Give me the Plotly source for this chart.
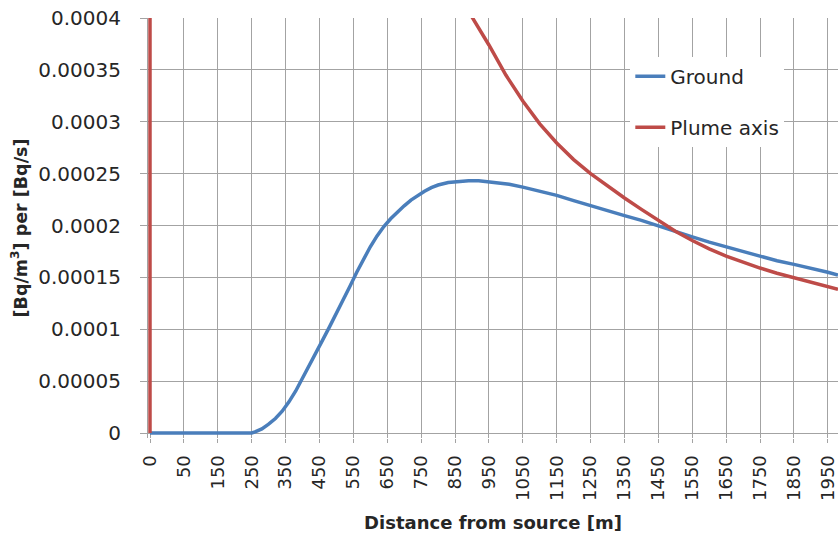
import plotly.graph_objects as go

# Category axis (distance from source in m)
categories = [str(d) for d in list(range(0, 50, 5)) + list(range(50, 1990, 10))]
x_tick_labels = ["0", "50", "150", "250", "350", "450", "550", "650", "750", "850",
                 "950", "1050", "1150", "1250", "1350", "1450", "1550", "1650",
                 "1750", "1850", "1950"]

y_tick_vals = [0, 0.00005, 0.0001, 0.00015, 0.0002, 0.00025, 0.0003, 0.00035, 0.0004]
y_tick_text = ["0", "0.00005", "0.0001", "0.00015", "0.0002", "0.00025", "0.0003", "0.00035", "0.0004"]

ground_dist = [0, 50, 100, 150, 200, 250, 260, 280, 300, 320, 340, 360, 380, 400, 420,
               440, 460, 480, 500, 520, 540, 560, 580, 600, 620, 640, 660, 680, 700, 720,
               740, 760, 780, 800, 830, 860, 890, 920, 950, 980, 1010, 1050, 1100, 1150,
               1200, 1250, 1300, 1350, 1400, 1450, 1500, 1550, 1600, 1650, 1700, 1750,
               1800, 1850, 1900, 1950, 1980]
ground_val = [0, 0, 0, 0, 0, 0, 0.0000010, 0.0000040, 0.0000085, 0.0000140, 0.0000210,
              0.0000300, 0.0000405, 0.0000525, 0.0000650, 0.0000775, 0.0000900, 0.0001025,
              0.0001150, 0.0001280, 0.0001415, 0.0001550, 0.0001680, 0.0001795, 0.0001900,
              0.0001990, 0.0002065, 0.0002130, 0.0002190, 0.0002245, 0.0002290, 0.0002330,
              0.0002365, 0.0002390, 0.0002415, 0.0002427, 0.0002432, 0.0002432, 0.0002423,
              0.0002410, 0.0002397, 0.0002370, 0.0002330, 0.0002290, 0.0002240, 0.0002190,
              0.0002145, 0.0002095, 0.0002050, 0.0001995, 0.0001940, 0.0001890, 0.0001840,
              0.0001795, 0.0001745, 0.0001700, 0.0001660, 0.0001625, 0.0001590, 0.0001550,
              0.0001523]

plume_dist = [0, 5, 50, 100, 200, 300, 400, 500, 600, 700, 800, 850, 900, 950, 1000,
              1050, 1100, 1150, 1200, 1250, 1300, 1350, 1400, 1450, 1500, 1550, 1600,
              1650, 1700, 1750, 1800, 1850, 1900, 1950, 1980]
plume_val = [0, 0.2, 0.02, 0.008, 0.003, 0.0016, 0.001, 0.00075, 0.00059, 0.0005,
             0.00044, 0.000433, 0.000401, 0.000374, 0.000345, 0.000320, 0.000298,
             0.0002795, 0.0002635, 0.000250, 0.000238, 0.0002265, 0.0002155, 0.0002045,
             0.0001945, 0.0001855, 0.0001775, 0.0001705, 0.0001645, 0.000159, 0.000154,
             0.0001495, 0.000145, 0.000141, 0.0001385]

GRID = "#A3A3A3"
TEXT = "#262626"

fig = go.Figure()
fig.add_trace(go.Scatter(x=[str(d) for d in ground_dist], y=ground_val, mode="lines",
                         name="Ground", legendgroup="g",
                         line=dict(color="#4A7EBB", width=3.5)))
fig.add_trace(go.Scatter(x=[str(d) for d in plume_dist], y=plume_val, mode="lines",
                         name="Plume axis", legendgroup="p",
                         line=dict(color="#BE4B48", width=3.5)))

n = len(categories)
fig.update_layout(
    width=838, height=536,
    margin=dict(l=148, r=0, t=18, b=98),
    plot_bgcolor="white", paper_bgcolor="white",
    font=dict(family="DejaVu Sans", color=TEXT, size=19),
    showlegend=True,
    legend=dict(x=0.699, y=0.908, xanchor="left", yanchor="top",
                bgcolor="white", font=dict(size=20, color=TEXT),
                traceorder="grouped", tracegroupgap=22),
)
fig.update_xaxes(
    type="category", categoryorder="array", categoryarray=categories,
    range=[-0.59, n - 1], automargin=False,
    tickmode="array", tickvals=x_tick_labels, ticktext=x_tick_labels,
    tickangle=-90, tickfont=dict(size=18, color=TEXT), ticklabelstandoff=5,
    showgrid=True, gridcolor=GRID, gridwidth=1,
    ticks="outside", ticklen=4, tickcolor=GRID,
    showline=False, zeroline=False,
    title=dict(text="<b>Distance from source [m]</b>", font=dict(size=18, color=TEXT), standoff=16),
)
fig.update_yaxes(
    range=[-0.0004 * 5 / 415, 0.0004], automargin=False,
    tickmode="array", tickvals=y_tick_vals, ticktext=y_tick_text,
    tickfont=dict(size=20, color=TEXT), ticklabelstandoff=15,
    showgrid=True, gridcolor=GRID, gridwidth=1,
    showline=True, linecolor=GRID, linewidth=1,
    ticks="outside", ticklen=7, tickcolor=GRID,
    zeroline=True, zerolinecolor=GRID, zerolinewidth=1,
    title=dict(text="<b>[Bq/m<sup>3</sup>] per [Bq/s]</b>", font=dict(size=17.5, color=TEXT), standoff=6),
)

fig.write_html("out.html", config={"displayModeBar": False},
               post_script="document.body.style.margin='0';")
